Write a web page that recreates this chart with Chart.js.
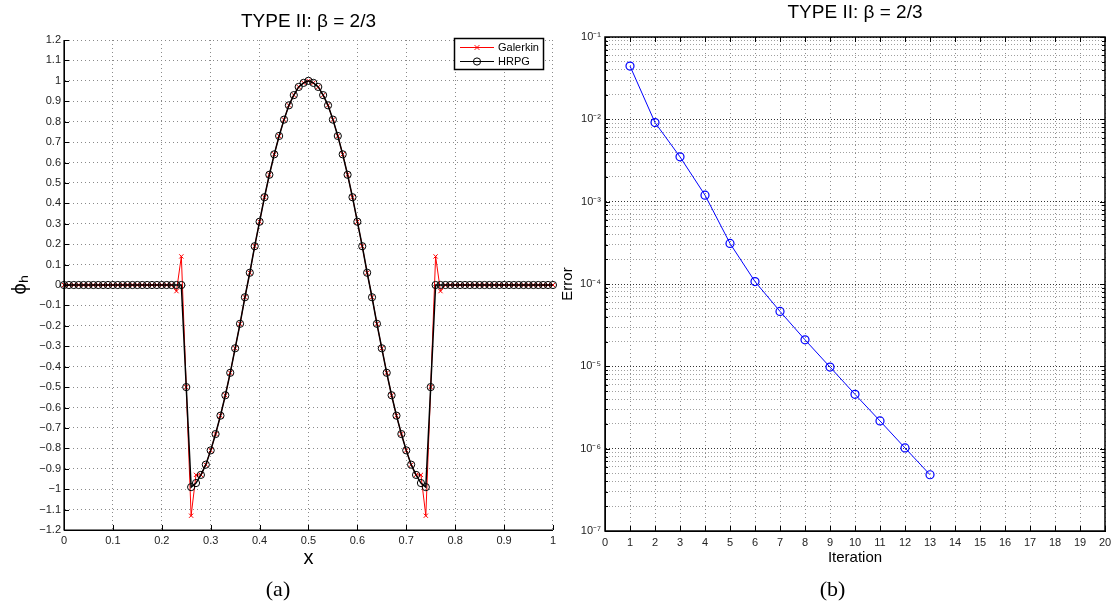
<!DOCTYPE html>
<html><head><meta charset="utf-8">
<script src="https://cdn.jsdelivr.net/npm/chart.js@4/dist/chart.umd.min.js"></script>
<style>
html,body{margin:0;padding:0;background:#fff;}
#wrap{position:relative;width:1118px;height:611px;overflow:hidden;background:#fff;}
canvas{position:absolute;top:0;}
#c1{left:0;} #c2{left:560px;}
</style></head><body>
<div id="wrap"><canvas id="c1" width="560" height="611"></canvas><canvas id="c2" width="558" height="611"></canvas></div>
<script>
// ---------- data: panel (a) ----------
const xNodes = [0,0.01,0.02,0.03,0.04,0.05,0.06,0.07,0.08,0.09,0.10,0.11,0.12,0.13,0.14,0.15,0.16,0.17,0.18,0.19,0.20,0.21,0.22,0.23,0.24,0.25,0.26,0.27,0.28,0.29,0.30,0.31,0.32,0.33,0.34,0.35,0.36,0.37,0.38,0.39,0.40,0.41,0.42,0.43,0.44,0.45,0.46,0.47,0.48,0.49,0.50,0.51,0.52,0.53,0.54,0.55,0.56,0.57,0.58,0.59,0.60,0.61,0.62,0.63,0.64,0.65,0.66,0.67,0.68,0.69,0.70,0.71,0.72,0.73,0.74,0.75,0.76,0.77,0.78,0.79,0.80,0.81,0.82,0.83,0.84,0.85,0.86,0.87,0.88,0.89,0.90,0.91,0.92,0.93,0.94,0.95,0.96,0.97,0.98,0.99,1.00];
const galerkin = [0,0,0,0,0,0,0,0,0,0,0,0,0,0,0,0,0,0,0,0,0,0,0,
  -0.03,0.14,-0.5,-1.13,-0.93,-0.93,-0.88,-0.81,-0.73,-0.64,-0.54,-0.43,-0.31,-0.19,-0.06,0.06,0.19,0.31,0.43,0.54,0.64,0.73,0.81,0.88,0.93,0.97,0.99,1.0,0.99,0.97,0.93,0.88,0.81,0.73,0.64,0.54,0.43,0.31,0.19,0.06,-0.06,-0.19,-0.31,-0.43,-0.54,-0.64,-0.73,-0.81,-0.88,-0.93,-0.93,-1.13,-0.5,0.14,-0.03,
  0,0,0,0,0,0,0,0,0,0,0,0,0,0,0,0,0,0,0,0,0,0,0];
const hrpg = [0,0,0,0,0,0,0,0,0,0,0,0,0,0,0,0,0,0,0,0,0,0,0,0,0,
  -0.5,-0.99,-0.97,-0.93,-0.88,-0.81,-0.73,-0.64,-0.54,-0.43,-0.31,-0.19,-0.06,0.06,0.19,0.31,0.43,0.54,0.64,0.73,0.81,0.88,0.93,0.97,0.99,1.0,0.99,0.97,0.93,0.88,0.81,0.73,0.64,0.54,0.43,0.31,0.19,0.06,-0.06,-0.19,-0.31,-0.43,-0.54,-0.64,-0.73,-0.81,-0.88,-0.93,-0.97,-0.99,-0.5,
  0,0,0,0,0,0,0,0,0,0,0,0,0,0,0,0,0,0,0,0,0,0,0,0,0];
const xTicks = [0,0.1,0.2,0.3,0.4,0.5,0.6,0.7,0.8,0.9,1];
const phiTicks = [-1.2,-1.1,-1,-0.9,-0.8,-0.7,-0.6,-0.5,-0.4,-0.3,-0.2,-0.1,0,0.1,0.2,0.3,0.4,0.5,0.6,0.7,0.8,0.9,1,1.1,1.2];

// ---------- data: panel (b) ----------
const iterations = [1,2,3,4,5,6,7,8,9,10,11,12,13];
const errors = [0.0444,0.00914,0.0035,0.0012,3.11e-4,1.07e-4,4.65e-5,2.1e-5,9.8e-6,4.57e-6,2.17e-6,1.02e-6,4.82e-7];
const iterTicks = [0,1,2,3,4,5,6,7,8,9,10,11,12,13,14,15,16,17,18,19,20];
const errorDecades = [1e-7,1e-6,1e-5,1e-4,1e-3,1e-2,1e-1];
const minorSteps = [2,3,4,5,6,7,8,9];

const titleText = 'TYPE II: \u03B2 = 2/3';
const SANS = '"Liberation Sans", Arial, Helvetica, sans-serif';
const SERIF = '"Liberation Serif", "Times New Roman", serif';
Chart.defaults.font.family = SANS;
Chart.defaults.color = '#000';

const SUP = {'-':'\u207B','0':'\u2070','1':'\u00B9','2':'\u00B2','3':'\u00B3','4':'\u2074','5':'\u2075','6':'\u2076','7':'\u2077','8':'\u2078','9':'\u2079'};
function isDecade(v){ const e = Math.log10(v); return Math.abs(e - Math.round(e)) < 1e-6; }
function decadeLabel(v){
  if (!isDecade(v)) return '';
  const e = String(Math.round(Math.log10(v)));
  return '10' + e.split('').map(c => SUP[c]).join('');
}
function fmtLin(v){
  const r = Math.round(v*100)/100;
  return String(r).replace('-', '\u2212');
}
const errorTicks = [];
errorDecades.forEach((d, i) => {
  errorTicks.push(d);
  if (i < errorDecades.length - 1) minorSteps.forEach(m => errorTicks.push(d*m));
});

// ---------- plugins ----------
const matAxes = {
  id: 'matAxes',
  afterDatasetsDraw(chart, args, opts) {
    const {ctx, chartArea: a, scales} = chart;
    const xs = scales.x, ys = scales.y;
    ctx.save();
    ctx.strokeStyle = '#000';
    ctx.lineWidth = 1;
    ctx.beginPath();
    const L = opts.tickLen || 5, Lm = opts.minorLen || 3;
    xs.ticks.forEach(t => {
      const p = Math.round(xs.getPixelForValue(t.value)) + 0.5;
      ctx.moveTo(p, a.bottom); ctx.lineTo(p, a.bottom - L);
      if (opts.box) { ctx.moveTo(p, a.top); ctx.lineTo(p, a.top + L); }
    });
    ys.ticks.forEach(t => {
      const len = (opts.logY && !isDecade(t.value)) ? Lm : L;
      const p = Math.round(ys.getPixelForValue(t.value)) + 0.5;
      ctx.moveTo(a.left, p); ctx.lineTo(a.left + len, p);
      if (opts.box) { ctx.moveTo(a.right, p); ctx.lineTo(a.right - len, p); }
    });
    ctx.stroke();
    if (opts.box) {
      ctx.lineWidth = opts.boxWidth || 1.5;
      ctx.strokeRect(Math.round(a.left), Math.round(a.top), Math.round(a.right - a.left), Math.round(a.bottom - a.top));
    } else {
      ctx.lineWidth = 1.2;
      ctx.beginPath();
      ctx.moveTo(a.left, a.top); ctx.lineTo(a.left, a.bottom); ctx.lineTo(a.right, a.bottom);
      ctx.stroke();
    }
    ctx.restore();
  }
};

const matLegend = {
  id: 'matLegend',
  afterDraw(chart, args, opts) {
    if (!opts || !opts.show) return;
    const {ctx, chartArea: a} = chart;
    const w = opts.width, h = opts.height;
    const x0 = Math.round(a.right - opts.right - w), y0 = Math.round(a.top + opts.top);
    ctx.save();
    ctx.fillStyle = '#fff';
    ctx.fillRect(x0, y0, w, h);
    ctx.strokeStyle = '#000'; ctx.lineWidth = 1.5;
    ctx.strokeRect(x0 + 0.5, y0 + 0.5, w, h);
    ctx.font = '11px ' + SANS;
    ctx.textBaseline = 'middle';
    ctx.textAlign = 'left';
    chart.data.datasets.forEach((ds, k) => {
      const cy = Math.round(y0 + 9 + k * 13.5) + 0.5;
      ctx.strokeStyle = ds.borderColor; ctx.lineWidth = 1;
      ctx.beginPath(); ctx.moveTo(x0 + 6, cy); ctx.lineTo(x0 + 40, cy); ctx.stroke();
      const mx = x0 + 23, r = ds.pointRadius;
      ctx.beginPath();
      if (ds.pointStyle === 'crossRot') {
        ctx.moveTo(mx - r*0.8, cy - r*0.8); ctx.lineTo(mx + r*0.8, cy + r*0.8);
        ctx.moveTo(mx - r*0.8, cy + r*0.8); ctx.lineTo(mx + r*0.8, cy - r*0.8);
      } else {
        ctx.arc(mx, cy, r, 0, Math.PI*2);
      }
      ctx.stroke();
      ctx.fillStyle = '#000';
      ctx.fillText(ds.label, x0 + 44, cy);
    });
    ctx.restore();
  }
};

const gridDash = [1, 3];

// ---------- chart (a) ----------
new Chart(document.getElementById('c1'), {
  type: 'scatter',
  data: {
    datasets: [
      { label: 'Galerkin', data: xNodes.map((x, i) => ({x, y: galerkin[i]})), showLine: true,
        borderColor: '#ff0000', borderWidth: 1, pointStyle: 'crossRot', pointRadius: 3,
        pointBorderColor: '#ff0000', pointBorderWidth: 1, pointBackgroundColor: '#ff0000', order: 2, clip: false },
      { label: 'HRPG', data: xNodes.map((x, i) => ({x, y: hrpg[i]})), showLine: true,
        borderColor: '#000000', borderWidth: 1.5, pointStyle: 'circle', pointRadius: 3.6,
        pointBorderColor: '#000000', pointBorderWidth: 1, pointBackgroundColor: 'rgba(0,0,0,0)', order: 1, clip: false }
    ]
  },
  options: {
    responsive: false, animation: false, devicePixelRatio: 1, events: [],
    layout: { padding: { left: 0, right: 4, top: 0, bottom: 0 } },
    plugins: {
      legend: { display: false }, tooltip: { enabled: false },
      title: { display: true, text: titleText, fullSize: false, color: '#000',
        font: { size: 19, weight: 'normal', family: SANS, lineHeight: 1.2 }, padding: { top: 10.6, bottom: 6.6 } },
      subtitle: { display: true, text: '(a)', position: 'bottom', fullSize: true, color: '#000',
        font: { size: 22, weight: 'normal', family: SERIF, lineHeight: 1.2 }, padding: { top: 6.8, bottom: 7.8 } },
      matAxes: { box: false, tickLen: 5 },
      matLegend: { show: true, width: 89, height: 31, right: 10, top: -2 }
    },
    scales: {
      x: { type: 'linear', min: 0, max: 1,
        afterBuildTicks: s => { s.ticks = xTicks.map(v => ({value: v})); },
        afterFit: s => { s.height = 40; },
        ticks: { autoSkip: false, maxRotation: 0, padding: 4, color: '#222', font: { size: 11 }, callback: v => fmtLin(v) },
        grid: { color: '#8a8a8a', lineWidth: 1, drawTicks: false },
        border: { display: true, color: '#000', width: 1, dash: gridDash },
        title: { display: true, text: 'x', color: '#000', font: { size: 20, lineHeight: 1 }, padding: { top: 0, bottom: 2 } }
      },
      y: { type: 'linear', min: -1.2, max: 1.2,
        afterBuildTicks: s => { s.ticks = phiTicks.map(v => ({value: v})); },
        afterFit: s => { s.width = 64; },
        ticks: { autoSkip: false, padding: 3, color: '#222', font: { size: 11 }, callback: v => fmtLin(v) },
        grid: { color: '#8a8a8a', lineWidth: 1, drawTicks: false },
        border: { display: true, color: '#000', width: 1, dash: gridDash },
        title: { display: true, text: '\u03D5\u2095', color: '#000', font: { size: 20, lineHeight: 1.2 }, padding: { top: 8, bottom: 0 } }
      }
    }
  },
  plugins: [matAxes, matLegend]
});

// ---------- chart (b) ----------
new Chart(document.getElementById('c2'), {
  type: 'scatter',
  data: {
    datasets: [
      { label: 'Error', data: iterations.map((it, i) => ({x: it, y: errors[i]})), showLine: true,
        borderColor: '#0000ff', borderWidth: 1, pointStyle: 'circle', pointRadius: 4,
        pointBorderColor: '#0000ff', pointBorderWidth: 1.2, pointBackgroundColor: 'rgba(0,0,0,0)', clip: false }
    ]
  },
  options: {
    responsive: false, animation: false, devicePixelRatio: 1, events: [],
    layout: { padding: { left: 0, right: 13, top: 0, bottom: 0 } },
    plugins: {
      legend: { display: false }, tooltip: { enabled: false },
      title: { display: true, text: titleText, fullSize: false, color: '#000',
        font: { size: 19, weight: 'normal', family: SANS, lineHeight: 1.2 }, padding: { top: 1.6, bottom: 12.6 } },
      subtitle: { display: true, text: '(b)', position: 'bottom', fullSize: true, color: '#000',
        font: { size: 22, weight: 'normal', family: SERIF, lineHeight: 1.2 }, padding: { top: 5.8, bottom: 7.8 } },
      matAxes: { box: true, logY: true, tickLen: 5, minorLen: 3, boxWidth: 1.5 }
    },
    scales: {
      x: { type: 'linear', min: 0, max: 20,
        afterBuildTicks: s => { s.ticks = iterTicks.map(v => ({value: v})); },
        afterFit: s => { s.height = 40; },
        ticks: { autoSkip: false, maxRotation: 0, padding: 5, color: '#222', font: { size: 11 }, callback: v => String(v) },
        grid: { color: '#8a8a8a', lineWidth: 1, drawTicks: false },
        border: { display: true, color: '#000', width: 1, dash: gridDash },
        title: { display: true, text: 'Iteration', color: '#000', font: { size: 15, lineHeight: 1.2 }, padding: { top: 0, bottom: 4 } }
      },
      y: { type: 'logarithmic', min: 1e-7, max: 1e-1,
        afterBuildTicks: s => { s.ticks = errorTicks.map(v => ({value: v, major: isDecade(v)})); },
        afterFit: s => { s.width = 45; },
        ticks: { autoSkip: false, padding: 4, color: '#222', font: { size: 11 }, callback: v => decadeLabel(v) },
        grid: { color: c => (c.tick && isDecade(c.tick.value)) ? '#333333' : '#a0a0a0', lineWidth: 1, drawTicks: false },
        border: { display: true, color: '#000', width: 1, dash: [1, 2] },
        title: { display: true, text: 'Error', color: '#000', font: { size: 15, lineHeight: 1 }, padding: { top: 0, bottom: 0 } }
      }
    }
  },
  plugins: [matAxes]
});
</script>
</body></html>
